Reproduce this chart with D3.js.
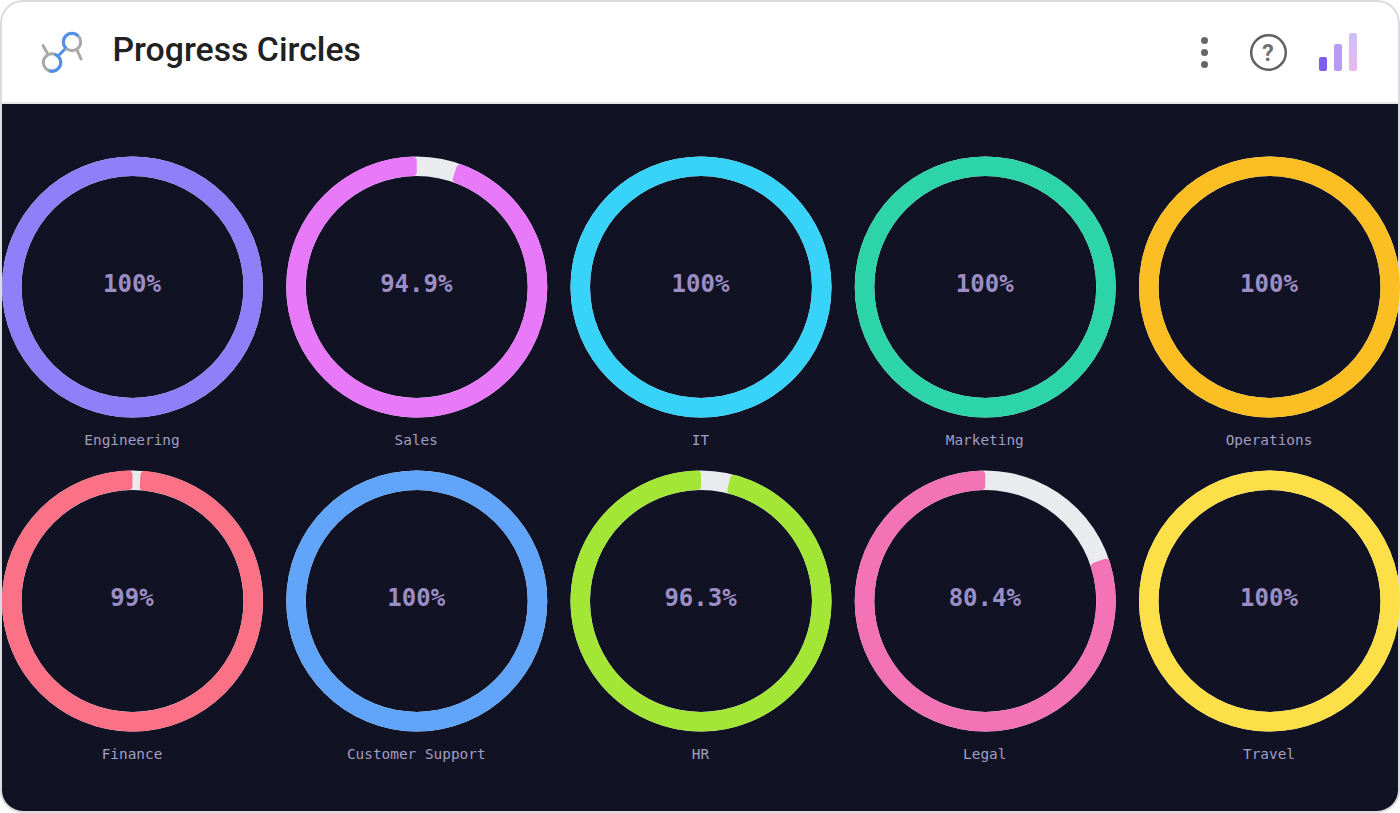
<!DOCTYPE html>
<html>
<head>
<meta charset="utf-8">
<script src="https://cdn.jsdelivr.net/npm/d3@7"></script>
<style>
  html, body { margin: 0; padding: 0; background: #fff; }
  svg { display: block; }
</style>
</head>
<body>
<svg id="chart" width="1400" height="813"></svg>
<script>
const departments = ["Engineering", "Sales", "IT", "Marketing", "Operations",
                     "Finance", "Customer Support", "HR", "Legal", "Travel"];
const percents = [100, 94.9, 100, 100, 100, 99, 100, 96.3, 80.4, 100];
const ringColors = ["#8f80fa", "#e879f9", "#38d3f8", "#2dd4a8", "#fbbf24",
                    "#fb7185", "#60a5fa", "#a3e635", "#f472b6", "#fde047"];

const svg = d3.select("#chart");
const W = 1400, H = 813, headerH = 103, cardR = 22;

// Card: white header strip above a dark plot panel, clipped to rounded corners
const defs = svg.append("defs");
defs.append("clipPath").attr("id", "card")
  .append("rect").attr("x", 1).attr("y", 1).attr("width", W - 2).attr("height", H - 2).attr("rx", cardR);
const grad = defs.append("linearGradient").attr("id", "barFade")
  .attr("x1", 0).attr("x2", 0).attr("y1", 0).attr("y2", 1);
grad.append("stop").attr("offset", "0%").attr("stop-color", "#cdc0fa");
grad.append("stop").attr("offset", "100%").attr("stop-color", "#e8b9ec");

const card = svg.append("g").attr("clip-path", "url(#card)");
card.append("rect").attr("width", W).attr("height", H).attr("fill", "#fff");
card.append("rect").attr("y", headerH).attr("width", W).attr("height", H - headerH).attr("fill", "#111325");
card.append("rect").attr("y", headerH - 1).attr("width", W).attr("height", 2).attr("fill", "#e6e6ea");
svg.append("rect").attr("x", 1).attr("y", 1).attr("width", W - 2).attr("height", H - 2).attr("rx", cardR)
  .attr("fill", "none").attr("stroke", "#dcdce0").attr("stroke-width", 2);

// Header logo: two linked rings, each half grey and half blue
const logo = svg.append("g").attr("fill", "none").attr("stroke-width", 3).attr("stroke-linecap", "round");
logo.append("line").attr("x1", 43).attr("y1", 45.5).attr("x2", 47.5).attr("y2", 53.5).attr("stroke", "#a8a8a8");
logo.append("line").attr("x1", 77.5).attr("y1", 51).attr("x2", 81).attr("y2", 59).attr("stroke", "#a8a8a8");
logo.append("line").attr("x1", 58).attr("y1", 56).attr("x2", 66).attr("y2", 48).attr("stroke", "#4f8fec");
const ringArc = d3.arc().innerRadius(8.7).outerRadius(8.7);
[[52, 62.5, 0, 2 * Math.PI, "#a8a8a8"], [52, 62.5, 0.1 * Math.PI, 1.1 * Math.PI, "#4f8fec"],
 [72, 42, 0, 2 * Math.PI, "#a8a8a8"], [72, 42, -0.75 * Math.PI, 0.25 * Math.PI, "#4f8fec"]]
  .forEach(([cx, cy, a0, a1, c]) => {
    logo.append("path").attr("transform", `translate(${cx},${cy})`)
      .attr("d", ringArc({ startAngle: a0, endAngle: a1 })).attr("stroke", c);
  });

svg.append("text").attr("x", 112.5).attr("y", 61)
  .attr("font-family", "Roboto").attr("font-weight", 500).attr("font-size", 33.8)
  .attr("fill", "#212121").text("Progress Circles");

// Header actions: menu dots, help, signal bars
[40.5, 52.5, 64.5].forEach(y => {
  svg.append("circle").attr("cx", 1204.5).attr("cy", y).attr("r", 3.5).attr("fill", "#666");
});
svg.append("circle").attr("cx", 1268.5).attr("cy", 52.5).attr("r", 17.3)
  .attr("fill", "none").attr("stroke", "#616161").attr("stroke-width", 2.5);
svg.append("text").attr("x", 1268).attr("y", 60.5).attr("text-anchor", "middle")
  .attr("font-family", "Roboto").attr("font-weight", 700).attr("font-size", 23)
  .attr("fill", "#707070").text("?");
[[1319, 57, 8, 14, "#7d5cf2"], [1334, 44, 8, 27, "#b79cf6"], [1349, 33, 8, 38, "url(#barFade)"]]
  .forEach(([x, y, w, h, fill]) => {
    svg.append("rect").attr("x", x).attr("y", y).attr("width", w).attr("height", h)
      .attr("rx", 2).attr("fill", fill);
  });

// Ring grid
const col = d3.scalePoint().domain(d3.range(5)).range([132.5, 1269.5]);
const row = d3.scalePoint().domain(d3.range(2)).range([287, 601]);
const sweep = d3.scaleLinear().domain([0, 100]).range([0, 2 * Math.PI]);

const outerR = 130.5, innerR = 111;
const track = d3.arc().innerRadius(innerR).outerRadius(outerR).startAngle(0).endAngle(2 * Math.PI);
const progress = d3.arc().innerRadius(innerR).outerRadius(outerR).cornerRadius(4);

const rings = svg.selectAll("g.ring")
  .data(departments.map((name, i) => ({ name, pct: percents[i], color: ringColors[i], i })))
  .join("g").attr("class", "ring")
  .attr("transform", d => `translate(${col(d.i % 5)},${row(Math.floor(d.i / 5))})`);

rings.append("path").attr("d", track()).attr("fill", "#e9ebef");

// Progress runs counter-clockwise from twelve o'clock, leaving the remainder on the right
rings.append("path").attr("fill", d => d.color)
  .attr("d", d => progress({ startAngle: sweep(100 - d.pct), endAngle: 2 * Math.PI }));

rings.append("text").attr("text-anchor", "middle").attr("x", -0.5).attr("y", 5)
  .attr("font-family", "'DejaVu Sans Mono'").attr("font-weight", 700).attr("font-size", 24)
  .attr("fill", "#9c8ec4").text(d => `${d.pct}%`);

rings.append("text").attr("text-anchor", "middle").attr("x", -0.5).attr("y", 158)
  .attr("font-family", "'DejaVu Sans Mono'").attr("font-size", 14.4)
  .attr("fill", "#a29dc2").text(d => d.name);
</script>
</body>
</html>
